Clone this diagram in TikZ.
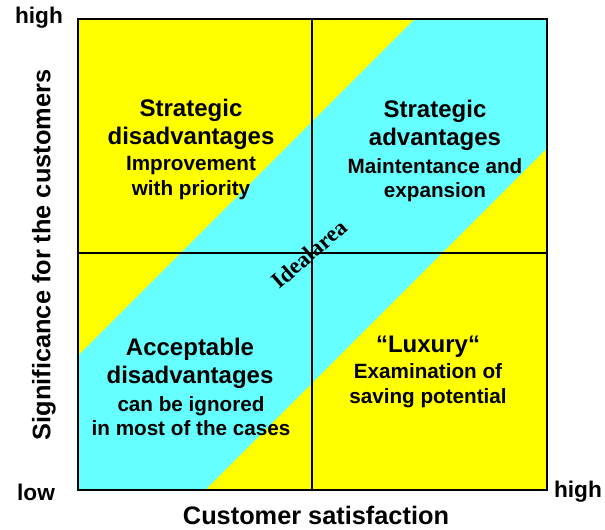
\documentclass[tikz,border=0pt]{standalone}
\usepackage{fontspec}
\setmainfont{Liberation Sans}
\newfontfamily\idealfont{Liberation Serif}
\definecolor{quadyellow}{RGB}{255,255,0}
\definecolor{idealcyan}{RGB}{102,255,255}
\begin{document}
\begin{tikzpicture}[x=0.75pt,y=0.75pt,
		title/.style={font=\fontsize{18}{21}\selectfont\bfseries,align=center,inner sep=0pt},
		hint/.style={font=\fontsize{15.5}{18.5}\selectfont\bfseries,align=center,inner sep=0pt},
		axislabel/.style={font=\fontsize{19}{22}\selectfont\bfseries,inner sep=0pt},
		endlabel/.style={font=\fontsize{17}{20}\selectfont\bfseries,inner sep=0pt}]
		\useasboundingbox (0,0) rectangle (605,530);
		% Box parameters
		\def\xl{78} \def\xr{547} \def\yb{40} \def\yt{511}
		\def\xm{312} \def\ym{277}
		
		% Yellow field and cyan band of the ideal area
		\fill[quadyellow] (\xl,\yb) rectangle (\xr,\yt);
		\fill[idealcyan] (\xl,174) -- (415,\yt) -- (\xr,\yt) -- (\xr,382) -- (205,\yb) -- (\xl,\yb) -- cycle;
		
		% Quadrant lines and frame
		\draw[line width=1.1pt] (\xm,\yb) -- (\xm,\yt);
		\draw[line width=1.1pt] (\xl,\ym) -- (\xr,\ym);
		\draw[line width=1.4pt] (\xl,\yb) rectangle (\xr,\yt);
		
		% Quadrant texts
		\node[title] (sdis) at (191,406) {Strategic\\disadvantages};
		\node[hint] (sdishint) at (191,352) {Improvement\\with priority};
		\node[title] (sadv) at (435,405) {Strategic\\advantages};
		\node[hint] (sadvhint) at (435,350) {Maintentance and\\expansion};
		\node[title] (adis) at (190,167) {Acceptable\\disadvantages};
		\node[hint] (adishint) at (191,114) {can be ignored\\in most of the cases};
		\node[title] (lux) at (428,183) {“Luxury“};
		\node[hint] (luxhint) at (428,144) {Examination of\\saving potential};
		
		% Ideal area label along the band
		\node[rotate=41,inner sep=0pt,font=\fontsize{17}{20}\selectfont\idealfont\bfseries] (ideal) at (309,276) {Idealarea};
		
		% Axes
		\node[axislabel,rotate=90] (sig) at (44,275) {Significance for the customers};
		\node[axislabel] (sat) at (316,15) {Customer satisfaction};
		\node[endlabel] (yhigh) at (39,512) {high};
		\node[endlabel] (xlow) at (36,38) {low};
		\node[endlabel] (xhigh) at (578,38) {high};
\end{tikzpicture}
\end{document}
